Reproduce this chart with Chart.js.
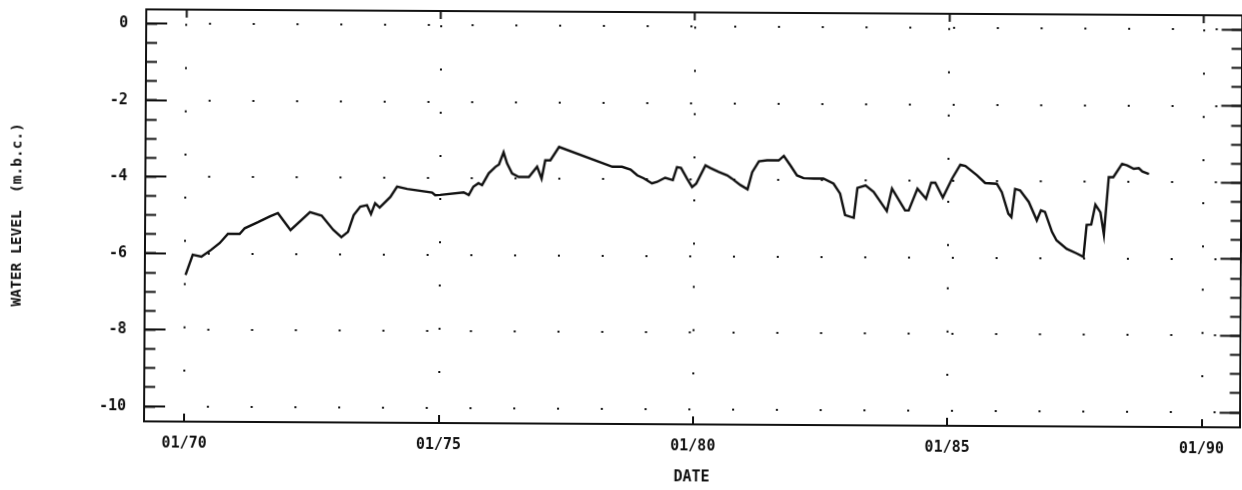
<!DOCTYPE html>
<html>
<head>
<meta charset="utf-8">
<script src="https://cdn.jsdelivr.net/npm/chart.js@4/dist/chart.umd.min.js"></script>
<style>
  html, body { margin: 0; padding: 0; background: #fff; }
  #wrap { width: 1242px; height: 490px; overflow: hidden; background: #fff; }
  /* the plotted sheet sits very slightly skewed */
  #c { display: block; transform: rotate(0.315deg); transform-origin: 621px 245px; }
</style>
</head>
<body>
<div id="wrap"><canvas id="c" width="1242" height="490"></canvas></div>
<script>
// Observation dates (decimal years) and water level below casing (m)
const dates = [
  1970.01, 1970.15, 1970.32, 1970.51, 1970.68, 1970.84, 1971.07, 1971.17, 1971.43, 1971.66,
  1971.82, 1972.07, 1972.45, 1972.68, 1972.91, 1973.07, 1973.20, 1973.31, 1973.44, 1973.57,
  1973.65, 1973.73, 1973.82, 1974.03, 1974.16, 1974.36, 1974.85, 1974.91, 1975.01, 1975.47,
  1975.57, 1975.66, 1975.76, 1975.83, 1975.96, 1976.09, 1976.16, 1976.25, 1976.32, 1976.42,
  1976.55, 1976.75, 1976.91, 1977.00, 1977.07, 1977.17, 1977.34, 1978.39, 1978.58, 1978.75,
  1978.88, 1979.01, 1979.17, 1979.27, 1979.40, 1979.43, 1979.58, 1979.66, 1979.74, 1979.86,
  1979.96, 1980.04, 1980.22, 1980.32, 1980.48, 1980.65, 1980.74, 1980.91, 1981.05, 1981.14,
  1981.27, 1981.43, 1981.66, 1981.76, 1981.89, 1982.02, 1982.15, 1982.35, 1982.54, 1982.74,
  1982.87, 1982.97, 1983.14, 1983.21, 1983.37, 1983.53, 1983.79, 1983.89, 1984.15, 1984.22,
  1984.39, 1984.56, 1984.66, 1984.74, 1984.89, 1985.07, 1985.23, 1985.33, 1985.56, 1985.72,
  1985.95, 1986.05, 1986.18, 1986.24, 1986.31, 1986.41, 1986.58, 1986.74, 1986.82, 1986.90,
  1987.04, 1987.13, 1987.33, 1987.53, 1987.66, 1987.72, 1987.81, 1987.89, 1987.99, 1988.06,
  1988.15, 1988.24, 1988.41, 1988.51, 1988.64, 1988.74, 1988.81, 1988.94
];
const levels = [
  -6.56, -6.03, -6.08, -5.90, -5.72, -5.48, -5.48, -5.33, -5.17, -5.02,
  -4.93, -5.37, -4.90, -4.99, -5.36, -5.55, -5.41, -4.97, -4.75, -4.71,
  -4.94, -4.66, -4.77, -4.49, -4.22, -4.28, -4.37, -4.44, -4.43, -4.36,
  -4.43, -4.21, -4.12, -4.17, -3.86, -3.69, -3.63, -3.31, -3.60, -3.86,
  -3.95, -3.95, -3.68, -3.99, -3.51, -3.51, -3.16, -3.67, -3.67, -3.74,
  -3.89, -3.97, -4.10, -4.06, -3.97, -3.95, -4.01, -3.67, -3.69, -3.97,
  -4.19, -4.10, -3.62, -3.69, -3.79, -3.88, -3.96, -4.13, -4.24, -3.79,
  -3.51, -3.48, -3.48, -3.36, -3.61, -3.87, -3.94, -3.95, -3.95, -4.08,
  -4.34, -4.90, -4.97, -4.19, -4.12, -4.29, -4.79, -4.20, -4.77, -4.77,
  -4.20, -4.46, -4.04, -4.04, -4.43, -3.93, -3.57, -3.60, -3.84, -4.04,
  -4.06, -4.28, -4.84, -4.93, -4.19, -4.23, -4.53, -5.01, -4.75, -4.79,
  -5.31, -5.53, -5.75, -5.87, -5.96, -5.12, -5.11, -4.59, -4.79, -5.37,
  -3.87, -3.87, -3.52, -3.56, -3.65, -3.63, -3.72, -3.78
];

// Axis ticks
const yearTicks = [1970, 1975, 1980, 1985, 1990];
const yearLabels = ['01/70', '01/75', '01/80', '01/85', '01/90'];
const levelTicks = [0, -2, -4, -6, -8, -10];
const levelLabels = ['0', '-2', '-4', '-6', '-8', '-10'];
const minorLevelTicks = [0, -0.5, -1, -1.5, -2, -2.5, -3, -3.5, -4, -4.5, -5,
  -5.5, -6, -6.5, -7, -7.5, -8, -8.5, -9, -9.5, -10];

// Axis extents
const X_MIN = 1969.21, X_MAX = 1990.747;
const Y_MIN = -10.392, Y_MAX = 0.376;

const INK = '#111';
const FONT = "'DejaVu Sans Mono', 'Liberation Mono', monospace";

// Dotted grid: a lead-in gap followed by evenly spaced square dots
function dotPattern(lead, step, count) {
  const d = [0, lead];
  for (let i = 0; i < count; i++) d.push(2, step - 2);
  return d;
}

const setTicks = (values) => (scale) => {
  scale.ticks = values.map(v => ({ value: v }));
};

// fixed box size, no extra label overhang padding
const fixWidth = (w) => (s) => {
  s.width = w; s.paddingTop = 0; s.paddingBottom = 0; s.paddingLeft = 0; s.paddingRight = 0;
};
const fixHeight = (h) => (s) => {
  s.height = h; s.paddingTop = 0; s.paddingBottom = 0; s.paddingLeft = 0; s.paddingRight = 0;
};

const ctx = document.getElementById('c').getContext('2d');
new Chart(ctx, {
  type: 'line',
  data: {
    datasets: [{
      data: dates.map((d, i) => ({ x: d, y: levels[i] })),
      borderColor: INK,
      borderWidth: 2.4,
      pointRadius: 0,
      tension: 0,
      fill: false
    }]
  },
  options: {
    responsive: false,
    devicePixelRatio: 1,
    animation: false,
    events: [],
    layout: { padding: 0 },
    plugins: { legend: { display: false }, tooltip: { enabled: false } },
    scales: {
      x: {
        type: 'linear', position: 'bottom', min: X_MIN, max: X_MAX,
        afterBuildTicks: setTicks(yearTicks),
        afterFit: fixHeight(66),
        ticks: {
          autoSkip: false, maxRotation: 0, padding: 21, color: INK,
          font: { family: FONT, size: 15, weight: 'bold' },
          callback: (v, i) => yearLabels[i]
        },
        grid: { color: INK, lineWidth: 2, tickLength: -8, tickWidth: 2, tickColor: INK },
        border: { display: true, color: INK, width: 2, dash: dotPattern(14.3, 43.2, 9) },
        title: {
          display: true, text: 'DATE', color: INK,
          font: { family: FONT, size: 15, weight: 'bold' },
          padding: { top: 0, bottom: 3.5 }
        }
      },
      xTop: {
        type: 'linear', position: 'top', min: X_MIN, max: X_MAX,
        afterBuildTicks: setTicks(yearTicks),
        afterFit: fixHeight(12),
        ticks: { display: false },
        grid: { drawOnChartArea: false, tickLength: -8, tickWidth: 2, tickColor: INK },
        border: { display: true, color: INK, width: 2 }
      },
      y: {
        type: 'linear', position: 'left', weight: 1, min: Y_MIN, max: Y_MAX,
        afterBuildTicks: setTicks(levelTicks),
        afterFit: fixWidth(145),
        ticks: {
          autoSkip: false, padding: 39, color: INK,
          font: { family: FONT, size: 15, weight: 'bold' },
          callback: (v, i) => levelLabels[i]
        },
        grid: { color: INK, lineWidth: 2, tickLength: -21, tickWidth: 2, tickColor: INK },
        border: { display: true, color: INK, width: 2, dash: dotPattern(61.8, 43.77, 24) },
        title: {
          display: true, text: 'WATER LEVEL  (m.b.c.)', color: INK,
          font: { family: FONT, size: 14.5, weight: 'bold' },
          padding: { top: 8.5, bottom: 0 }
        }
      },
      yMinor: {
        type: 'linear', position: 'left', weight: 0, min: Y_MIN, max: Y_MAX,
        afterBuildTicks: setTicks(minorLevelTicks),
        afterFit: fixWidth(0),
        ticks: { display: false },
        grid: { drawOnChartArea: false, tickLength: -11, tickWidth: 2, tickColor: INK },
        border: { display: false }
      },
      yRight: {
        type: 'linear', position: 'right', weight: 1, min: Y_MIN, max: Y_MAX,
        afterBuildTicks: setTicks(levelTicks),
        afterFit: fixWidth(1.5),
        ticks: { display: false },
        grid: { drawOnChartArea: false, tickLength: -20, tickWidth: 2, tickColor: INK },
        border: { display: true, color: INK, width: 2 }
      },
      yRightMinor: {
        type: 'linear', position: 'right', weight: 0, min: Y_MIN, max: Y_MAX,
        afterBuildTicks: setTicks(minorLevelTicks),
        afterFit: fixWidth(0),
        ticks: { display: false },
        grid: { drawOnChartArea: false, tickLength: -10, tickWidth: 2, tickColor: INK },
        border: { display: false }
      }
    }
  }
});
</script>
</body>
</html>
